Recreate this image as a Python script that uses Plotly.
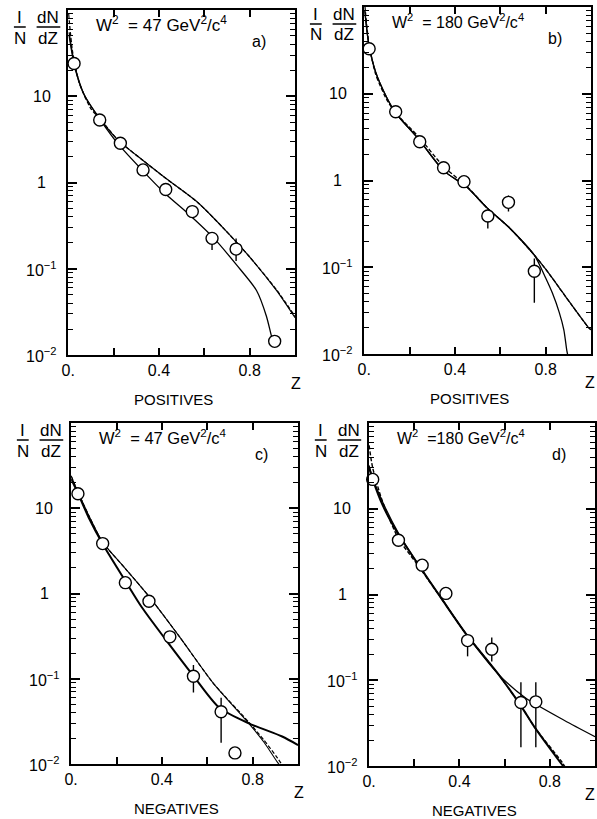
import math
import plotly.graph_objects as go

W, H = 597, 819
FONT = "Liberation Sans"

# ---------------- data ----------------
# Panel a) positives, W^2 = 47 GeV^2/c^4
a_z = [0.026, 0.139, 0.23, 0.33, 0.43, 0.547, 0.634, 0.74, 0.91]
a_v = [24, 5.3, 2.85, 1.4, 0.83, 0.46, 0.225, 0.169, 0.0144]
a_hi = [None, None, None, None, None, None, 0.257, 0.224, None]
a_lo = [None, None, None, None, None, None, 0.165, 0.123, None]
a_c1_z = [0.004, 0.03, 0.07, 0.14, 0.22, 0.325, 0.426, 0.54, 0.643, 0.743, 0.83, 0.874, 0.896, 0.91]
a_c1_v = [55, 22, 10.5, 5.4, 2.8, 1.4, 0.75, 0.41, 0.225, 0.11, 0.056, 0.028, 0.0165, 0.0125]
a_c2_z = [0.004, 0.03, 0.07, 0.14, 0.22, 0.33, 0.43, 0.57, 0.687, 0.804, 0.918, 1.0]
a_c2_v = [50, 21, 10.5, 5.5, 3.1, 1.8, 1.12, 0.59, 0.29, 0.133, 0.056, 0.027]
a_d_z = [0.002, 0.02, 0.05, 0.1, 0.14, 0.22, 0.33, 0.43, 0.57, 0.687, 0.804, 0.918, 1.0]
a_d_v = [90, 32, 14, 7.2, 5.5, 3.1, 1.8, 1.12, 0.59, 0.29, 0.133, 0.057, 0.028]

# Panel b) positives, W^2 = 180 GeV^2/c^4
b_z = [0.022, 0.139, 0.245, 0.35, 0.44, 0.545, 0.636, 0.75]
b_v = [33, 6.2, 2.8, 1.4, 0.97, 0.39, 0.56, 0.09]
b_hi = [None, None, None, None, None, 0.46, 0.67, 0.126]
b_lo = [None, None, None, None, None, 0.28, 0.44, 0.039]
b_c1_z = [0.003, 0.02, 0.05, 0.1, 0.139, 0.24, 0.35, 0.45, 0.543, 0.643, 0.75, 0.8, 0.86, 0.89, 0.99, 1.0]
b_c1_v = [90, 38, 18, 9, 6.0, 3.0, 1.3, 0.85, 0.48, 0.28, 0.138, 0.095, 0.058, 0.045, 0.02, 0.019]
b_c2_z = [0.003, 0.02, 0.05, 0.1, 0.139, 0.24, 0.35, 0.45, 0.543, 0.643, 0.75, 0.8, 0.83, 0.86, 0.88, 0.893, 0.898]
b_c2_v = [90, 38, 18, 9, 6.0, 3.0, 1.3, 0.85, 0.48, 0.28, 0.138, 0.075, 0.05, 0.03, 0.019, 0.011, 0.0095]
b_d_z = [0.001, 0.02, 0.05, 0.1, 0.139, 0.24, 0.35, 0.45, 0.543, 0.643, 0.75, 0.8, 0.86, 0.89, 0.99, 1.0]
b_d_v = [120, 40, 17, 8.5, 6.0, 3.2, 1.45, 0.87, 0.48, 0.28, 0.138, 0.095, 0.058, 0.045, 0.02, 0.019]

# Panel c) negatives, W^2 = 47 GeV^2/c^4
c_z = [0.03, 0.139, 0.239, 0.343, 0.435, 0.539, 0.661, 0.722]
c_v = [14.8, 3.85, 1.34, 0.81, 0.31, 0.107, 0.041, 0.0135]
c_hi = [None, None, None, None, None, 0.145, 0.060, None]
c_lo = [None, None, None, None, None, 0.069, 0.0178, None]
c_c1_z = [0.0, 0.03, 0.08, 0.139, 0.239, 0.348, 0.478, 0.626, 0.783, 0.85, 0.909, 0.925]
c_c1_v = [24, 15.5, 8.0, 4.0, 1.96, 0.89, 0.31, 0.089, 0.030, 0.018, 0.0105, 0.0093]
c_c2_z = [0.0, 0.03, 0.08, 0.139, 0.239, 0.313, 0.42, 0.54, 0.652, 0.783, 0.93, 1.0]
c_c2_v = [22, 15, 7.5, 3.8, 1.4, 0.68, 0.28, 0.107, 0.046, 0.030, 0.021, 0.0167]
c_d_z = [0.0, 0.03, 0.08, 0.139, 0.239, 0.348, 0.478, 0.626, 0.783, 0.85, 0.909, 0.935]
c_d_v = [24, 15.5, 8.0, 4.0, 1.96, 0.89, 0.31, 0.089, 0.031, 0.019, 0.0118, 0.0093]

# Panel d) negatives, W^2 = 180 GeV^2/c^4
d_z = [0.016, 0.13, 0.235, 0.34, 0.436, 0.543, 0.672, 0.738]
d_v = [22, 4.3, 2.2, 1.03, 0.29, 0.23, 0.055, 0.056]
d_hi = [None, None, None, None, None, 0.316, 0.095, 0.095]
d_lo = [None, None, None, None, 0.19, 0.166, 0.0166, 0.0166]
d_c1_z = [0.0, 0.016, 0.06, 0.13, 0.21, 0.32, 0.428, 0.572, 0.69, 0.865, 1.0]
d_c1_v = [32, 23, 12, 5.2, 2.4, 0.9, 0.35, 0.118, 0.063, 0.034, 0.022]
d_c2_z = [0.0, 0.016, 0.06, 0.13, 0.21, 0.32, 0.428, 0.572, 0.677, 0.734, 0.85, 0.865]
d_c2_v = [30, 22, 11, 5.0, 2.4, 0.9, 0.35, 0.118, 0.048, 0.028, 0.0107, 0.0095]
d_d_z = [0.0, 0.016, 0.06, 0.13, 0.21, 0.32, 0.428, 0.572, 0.677, 0.734, 0.855, 0.87]
d_d_v = [55, 30, 12, 4.5, 2.3, 0.9, 0.35, 0.118, 0.048, 0.028, 0.011, 0.0095]

x_tickvals = [0, 0.4, 0.8]
x_ticktext = ["0.", "0.4", "0.8"]
x_minor = [0.2, 0.6, 1.0]
y_tickvals = [0.01, 0.1, 1, 10, 100]
y_labelvals = [0.01, 0.1, 1, 10]
y_labeltext = ["10<sup>−2</sup>", "10<sup>−1</sup>", "1", "10"]
y_minor = [m * 10 ** e for e in (-2, -1, 0, 1) for m in range(2, 10)]

panels = [
    dict(z=a_z, v=a_v, hi=a_hi, lo=a_lo,
         curves=[(a_c1_z, a_c1_v, "solid", 1.3), (a_c2_z, a_c2_v, "solid", 1.2), (a_d_z, a_d_v, "dash", 1.3)],
         xd=[62, 292], yd=[10, 355], head="W<sup>2</sup>  = 47 GeV<sup>2</sup>/c<sup>4</sup>", hs=17,
         tag="a)", label="POSITIVES"),
    dict(z=b_z, v=b_v, hi=b_hi, lo=b_lo,
         curves=[(b_c1_z, b_c1_v, "solid", 1.3), (b_c2_z, b_c2_v, "solid", 1.3), (b_d_z, b_d_v, "dash", 1.3)],
         xd=[362, 592], yd=[7, 354], head="W<sup>2</sup>  = 180 GeV<sup>2</sup>/c<sup>4</sup>", hs=16,
         tag="b)", label="POSITIVES"),
    dict(z=c_z, v=c_v, hi=c_hi, lo=c_lo,
         curves=[(c_c1_z, c_c1_v, "solid", 1.1), (c_c2_z, c_c2_v, "solid", 2.0), (c_d_z, c_d_v, "dash", 1.2)],
         xd=[65, 295], yd=[423, 764], head="W<sup>2</sup>  = 47 GeV<sup>2</sup>/c<sup>4</sup>", hs=16.5,
         tag="c)", label="NEGATIVES"),
    dict(z=d_z, v=d_v, hi=d_hi, lo=d_lo,
         curves=[(d_c1_z, d_c1_v, "solid", 1.2), (d_c2_z, d_c2_v, "solid", 2.0), (d_d_z, d_d_v, "dash", 1.4)],
         xd=[367, 596], yd=[423, 766], head="W<sup>2</sup>  =180 GeV<sup>2</sup>/c<sup>4</sup>", hs=16,
         tag="d)", label="NEGATIVES"),
]

fig = go.Figure()
annotations = []
shapes = []


def ann(px, py, text, size=15, xanchor="center", yanchor="middle"):
    annotations.append(dict(x=px / W, y=1 - py / H, xref="paper", yref="paper", text=text,
                            showarrow=False, xanchor=xanchor, yanchor=yanchor, borderpad=0,
                            font=dict(family=FONT, size=size, color="black")))


def hline(x0, x1, py):
    shapes.append(dict(type="line", xref="paper", yref="paper", x0=x0 / W, x1=x1 / W,
                       y0=1 - py / H, y1=1 - py / H, line=dict(color="black", width=1.5)))


layout_axes = {}
for i, p in enumerate(panels, start=1):
    xa = "x" if i == 1 else f"x{i}"
    ya = "y" if i == 1 else f"y{i}"
    for cz, cv, dash, lw in p["curves"]:
        fig.add_trace(go.Scatter(x=cz, y=cv, mode="lines", xaxis=xa, yaxis=ya,
                                 line=dict(color="black", width=lw,
                                           dash="4px,2px" if dash == "dash" else "solid",
                                           shape="spline", smoothing=0.7),
                                 showlegend=False, hoverinfo="skip"))
    plus = [(h - v) if h is not None else 0 for h, v in zip(p["hi"], p["v"])]
    minus = [(v - l) if l is not None else 0 for l, v in zip(p["lo"], p["v"])]
    fig.add_trace(go.Scatter(x=p["z"], y=p["v"], mode="markers", xaxis=xa, yaxis=ya,
                             marker=dict(symbol="circle", size=12, color="white",
                                         line=dict(color="black", width=1.4)),
                             error_y=dict(type="data", symmetric=False, array=plus, arrayminus=minus,
                                          width=0, thickness=1.4, color="black"),
                             showlegend=False, cliponaxis=False))
    xkey = "xaxis" if i == 1 else f"xaxis{i}"
    ykey = "yaxis" if i == 1 else f"yaxis{i}"
    layout_axes[xkey] = dict(domain=[p["xd"][0] / W, p["xd"][1] / W], anchor=ya, range=[0, 1],
                             tickvals=x_tickvals, ticktext=x_ticktext, ticks="inside", ticklen=7,
                             tickwidth=1.5, tickcolor="black",
                             minor=dict(tickvals=x_minor, ticks="inside", ticklen=7, tickwidth=1.5,
                                        tickcolor="black", showgrid=False),
                             showline=True, linewidth=2,
                             linecolor="black", mirror="ticks", showgrid=False, zeroline=False,
                             tickfont=dict(family=FONT, size=16, color="black"))
    layout_axes[ykey] = dict(domain=[1 - p["yd"][1] / H, 1 - p["yd"][0] / H], anchor=xa,
                             type="log", range=[-2, 2], tickvals=y_tickvals, showticklabels=False,
                             ticks="inside", ticklen=9, tickwidth=1.5, tickcolor="black",
                             minor=dict(tickvals=y_minor, ticks="inside", ticklen=5, tickwidth=1,
                                        tickcolor="black", showgrid=False),
                             showline=True, linewidth=2, linecolor="black", mirror="ticks",
                             showgrid=False, zeroline=False)
    x0, x1 = p["xd"]
    y0, y1 = p["yd"]
    # y tick labels, centred as in the original print
    for val, txt in zip(y_labelvals, y_labeltext):
        annotations.append(dict(x=(x0 - 27) / W, xref="paper", y=math.log10(val), yref=ya,
                                text=txt, showarrow=False, xanchor="center", yanchor="middle",
                                font=dict(family=FONT, size=16, color="black")))
    # header text
    ann(x0 + 27, y0 + 14, p["head"], p["hs"], "left")
    ann(x0 + 193, y0 + 31, p["tag"], 16, "center")
    # x axis name and category
    ann(min(x1 + 1, W - 6), y1 + 28, "Z", 16, "center")
    ann(x0 + 107, y1 + 44, p["label"], 15, "center")
    # y axis fraction label 1/N dN/dZ
    ann(x0 - 49, y0 + 7, "I", 17)
    ann(x0 - 49, y0 + 28, "N", 17)
    ann(x0 - 20, y0 + 7, "dN", 17)
    ann(x0 - 20, y0 + 28, "dZ", 17)
    hline(x0 - 55, x0 - 43, y0 + 17)
    hline(x0 - 32, x0 - 8, y0 + 17)

fig.update_layout(width=W, height=H, margin=dict(l=0, r=0, t=0, b=0),
                  paper_bgcolor="white", plot_bgcolor="white",
                  annotations=annotations, shapes=shapes, **layout_axes)

fig.write_html("out.html")
